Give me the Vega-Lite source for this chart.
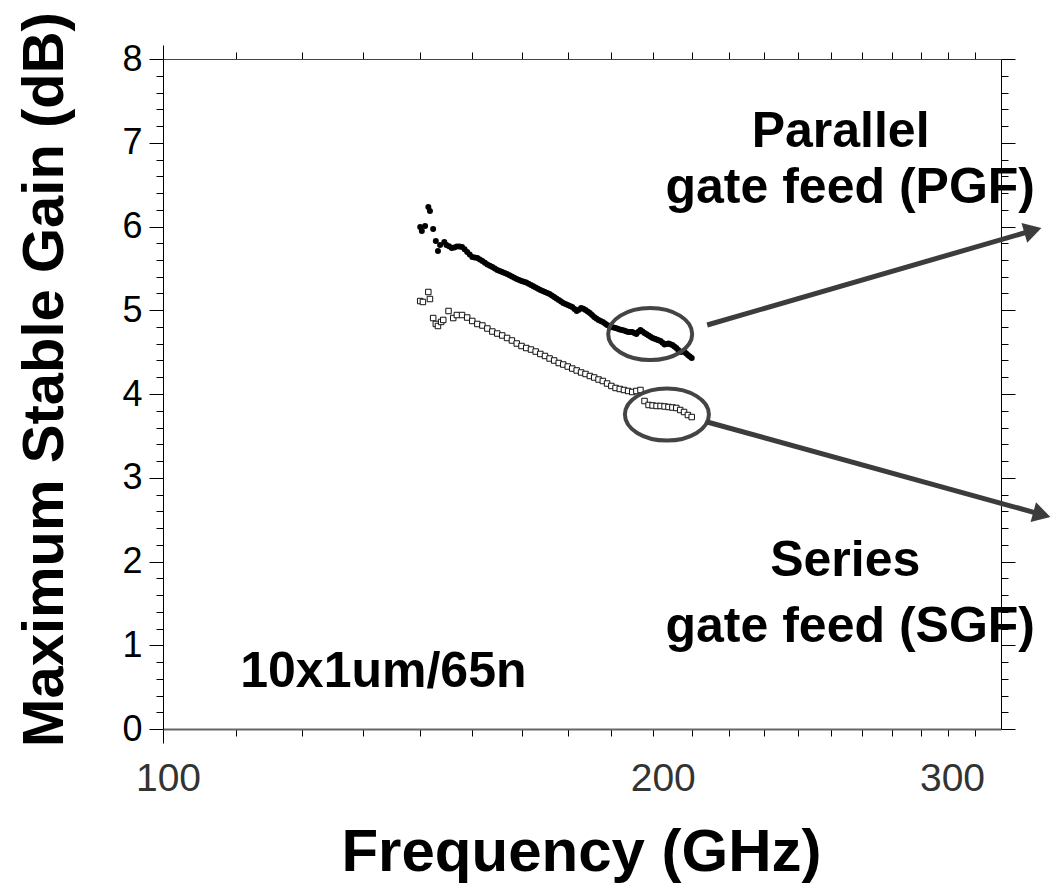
{
  "$schema": "https://vega.github.io/schema/vega-lite/v6.json",
  "width": 838,
  "height": 670,
  "autosize": {"type": "none"},
  "padding": {"left": 163, "top": 59, "right": 50, "bottom": 157},
  "background": "white",
  "config": {
    "view": {"stroke": null},
    "font": "Liberation Sans",
    "axis": {"grid": false, "labelFont": "Liberation Sans", "titleFont": "Liberation Sans", "tickColor": "black", "tickWidth": 1, "domainColor": "black"}
  },
  "datasets": {
    "pgf": [
      {"f": 140.1, "g": 5.994}, {"f": 140.4, "g": 5.946}, {"f": 141.0, "g": 6.006}, {"f": 141.6, "g": 6.233},
      {"f": 141.9, "g": 6.185}, {"f": 142.5, "g": 5.970}, {"f": 143.0, "g": 5.827}, {"f": 143.4, "g": 5.707},
      {"f": 143.8, "g": 5.779}, {"f": 144.6, "g": 5.815},
      {"f": 145, "g": 5.779}, {"f": 145.5, "g": 5.765}, {"f": 146, "g": 5.743}, {"f": 146.5, "g": 5.750},
      {"f": 147, "g": 5.761}, {"f": 147.5, "g": 5.760}, {"f": 148, "g": 5.755}, {"f": 148.5, "g": 5.728},
      {"f": 149, "g": 5.696}, {"f": 149.5, "g": 5.665}, {"f": 150, "g": 5.636}, {"f": 150.5, "g": 5.630},
      {"f": 151, "g": 5.624}, {"f": 151.5, "g": 5.607}, {"f": 152, "g": 5.588}, {"f": 152.5, "g": 5.567},
      {"f": 153, "g": 5.546}, {"f": 153.5, "g": 5.531}, {"f": 154, "g": 5.516}, {"f": 154.5, "g": 5.499},
      {"f": 155, "g": 5.481}, {"f": 155.5, "g": 5.469}, {"f": 156, "g": 5.457}, {"f": 156.5, "g": 5.445},
      {"f": 157, "g": 5.433}, {"f": 157.5, "g": 5.418}, {"f": 158, "g": 5.403}, {"f": 158.5, "g": 5.388},
      {"f": 159, "g": 5.373}, {"f": 159.5, "g": 5.361}, {"f": 160, "g": 5.349}, {"f": 160.5, "g": 5.340},
      {"f": 161, "g": 5.331}, {"f": 161.5, "g": 5.316}, {"f": 162, "g": 5.301}, {"f": 162.5, "g": 5.287},
      {"f": 163, "g": 5.272}, {"f": 163.5, "g": 5.257}, {"f": 164, "g": 5.242}, {"f": 164.5, "g": 5.230},
      {"f": 165, "g": 5.218}, {"f": 165.5, "g": 5.206}, {"f": 166, "g": 5.194}, {"f": 166.5, "g": 5.176},
      {"f": 167, "g": 5.158}, {"f": 167.5, "g": 5.140}, {"f": 168, "g": 5.122}, {"f": 168.5, "g": 5.105},
      {"f": 169, "g": 5.087}, {"f": 169.5, "g": 5.075}, {"f": 170, "g": 5.063}, {"f": 170.5, "g": 5.051},
      {"f": 171, "g": 5.039}, {"f": 171.5, "g": 5.015}, {"f": 172, "g": 4.991}, {"f": 172.5, "g": 5.005},
      {"f": 173, "g": 5.027}, {"f": 173.5, "g": 5.018}, {"f": 174, "g": 5.003}, {"f": 174.5, "g": 4.985},
      {"f": 175, "g": 4.967}, {"f": 175.5, "g": 4.944}, {"f": 176, "g": 4.920}, {"f": 176.5, "g": 4.902},
      {"f": 177, "g": 4.884}, {"f": 177.5, "g": 4.872}, {"f": 178, "g": 4.860}, {"f": 178.5, "g": 4.842},
      {"f": 179, "g": 4.824}, {"f": 179.5, "g": 4.812}, {"f": 180, "g": 4.800}, {"f": 180.5, "g": 4.794},
      {"f": 181, "g": 4.788}, {"f": 181.5, "g": 4.779}, {"f": 182, "g": 4.770}, {"f": 182.5, "g": 4.764},
      {"f": 183, "g": 4.758}, {"f": 183.5, "g": 4.749}, {"f": 184, "g": 4.740}, {"f": 184.5, "g": 4.740},
      {"f": 185, "g": 4.740}, {"f": 185.5, "g": 4.728}, {"f": 186, "g": 4.716}, {"f": 186.5, "g": 4.742},
      {"f": 187, "g": 4.764}, {"f": 187.5, "g": 4.746}, {"f": 188, "g": 4.728}, {"f": 188.5, "g": 4.713},
      {"f": 189, "g": 4.699}, {"f": 189.5, "g": 4.684}, {"f": 190, "g": 4.669}, {"f": 190.5, "g": 4.660},
      {"f": 191, "g": 4.651}, {"f": 191.5, "g": 4.642}, {"f": 192, "g": 4.633}, {"f": 192.5, "g": 4.612},
      {"f": 193, "g": 4.591}, {"f": 193.5, "g": 4.597}, {"f": 194, "g": 4.603}, {"f": 194.5, "g": 4.594},
      {"f": 195, "g": 4.585}, {"f": 195.5, "g": 4.567}, {"f": 196, "g": 4.549}, {"f": 196.5, "g": 4.525},
      {"f": 197, "g": 4.501}, {"f": 197.5, "g": 4.504}, {"f": 198, "g": 4.507}, {"f": 198.5, "g": 4.486},
      {"f": 199, "g": 4.466}, {"f": 199.5, "g": 4.448}, {"f": 200, "g": 4.430}
    ],
    "sgf": [
      {"f": 140.1, "g": 5.110}, {"f": 140.6, "g": 5.099}, {"f": 141.6, "g": 5.218}, {"f": 141.9, "g": 5.134},
      {"f": 142.5, "g": 4.907}, {"f": 143.0, "g": 4.836}, {"f": 143.4, "g": 4.812}, {"f": 144.0, "g": 4.860},
      {"f": 144.4, "g": 4.884}, {"f": 145.4, "g": 4.991}, {"f": 146.3, "g": 4.907},
      {"f": 147, "g": 4.943}, {"f": 148, "g": 4.943}, {"f": 149, "g": 4.913}, {"f": 150, "g": 4.872},
      {"f": 151, "g": 4.836}, {"f": 152, "g": 4.818}, {"f": 153, "g": 4.782}, {"f": 154, "g": 4.746},
      {"f": 155, "g": 4.722}, {"f": 156, "g": 4.699}, {"f": 157, "g": 4.669}, {"f": 158, "g": 4.639},
      {"f": 159, "g": 4.603}, {"f": 160, "g": 4.573}, {"f": 161, "g": 4.549}, {"f": 162, "g": 4.531},
      {"f": 163, "g": 4.507}, {"f": 164, "g": 4.478}, {"f": 165, "g": 4.454}, {"f": 166, "g": 4.424},
      {"f": 167, "g": 4.400}, {"f": 168, "g": 4.370}, {"f": 169, "g": 4.352}, {"f": 170, "g": 4.328},
      {"f": 171, "g": 4.304}, {"f": 172, "g": 4.281}, {"f": 173, "g": 4.257}, {"f": 174, "g": 4.239},
      {"f": 175, "g": 4.215}, {"f": 176, "g": 4.197}, {"f": 177, "g": 4.173}, {"f": 178, "g": 4.155},
      {"f": 179, "g": 4.125}, {"f": 180, "g": 4.096}, {"f": 181, "g": 4.072}, {"f": 182, "g": 4.060},
      {"f": 183, "g": 4.048}, {"f": 184, "g": 4.036}, {"f": 185, "g": 4.024}, {"f": 186, "g": 4.036},
      {"f": 187, "g": 4.048}, {"f": 188, "g": 3.916}, {"f": 189, "g": 3.869}, {"f": 190, "g": 3.863},
      {"f": 191, "g": 3.857}, {"f": 192, "g": 3.857}, {"f": 193, "g": 3.851}, {"f": 194, "g": 3.845},
      {"f": 195, "g": 3.839}, {"f": 196, "g": 3.833}, {"f": 197, "g": 3.809}, {"f": 198, "g": 3.785},
      {"f": 199, "g": 3.749}, {"f": 200, "g": 3.725}
    ],
    "circles": [
      {"f": 189.4, "g": 4.716},
      {"f": 193.6, "g": 3.755}
    ],
    "arrows": [
      {"dir": "up", "f0": 204.1, "g0": 4.824, "f1": 312.8, "g1": 5.953},
      {"dir": "down", "f0": 204.1, "g0": 3.666, "f1": 316.5, "g1": 2.560}
    ],
    "notes": [
      {"f": 243.1, "g": 6.949, "label": "Parallel"},
      {"f": 246.2, "g": 6.281, "label": "gate feed (PGF)"},
      {"f": 244.6, "g": 1.827, "label": "Series"},
      {"f": 246.2, "g": 1.039, "label": "gate feed (SGF)"},
      {"f": 133.5, "g": 0.501, "label": "10x1um/65n"}
    ]
  },
  "layer": [
    {
      "data": {"name": "pgf"},
      "mark": {"type": "point", "shape": "circle", "filled": true, "color": "black", "size": 36, "opacity": 1},
      "encoding": {
        "x": {
          "field": "f", "type": "quantitative",
          "scale": {"type": "log", "domain": [100, 300], "nice": false},
          "axis": {
            "orient": "bottom",
            "values": [100, 110, 120, 130, 140, 150, 160, 170, 180, 190, 200, 210, 220, 230, 240, 250, 260, 270, 280, 290, 300],
            "tickSize": {"condition": {"test": "datum.value == 100", "value": 14}, "value": 7},
            "tickOpacity": {"condition": {"test": "datum.value == 300", "value": 0}, "value": 1},
            "labelPadding": {"condition": {"test": "datum.value == 100", "value": 47}, "value": 54},
            "labelOffset": {"condition": [{"test": "datum.value == 200", "value": -29}, {"test": "datum.value == 300", "value": -49}], "value": 5},
            "labelExpr": "datum.value == 100 || datum.value == 200 || datum.value == 300 ? format(datum.value, 'd') : ''",
            "labelFlush": false,
            "labelOverlap": false,
            "labelBaseline": "alphabetic",
            "labelFontSize": 39,
            "labelColor": "#333333",
            "domainColor": "#666666",
            "domainWidth": 2,
            "title": "Frequency (GHz)",
            "titleFontSize": 60,
            "titleFontWeight": "bold",
            "titleColor": "black",
            "titleBaseline": "alphabetic",
            "titleAlign": "center",
            "titleX": 418,
            "titleY": 141
          }
        },
        "y": {
          "field": "g", "type": "quantitative",
          "scale": {"domain": [0, 8], "nice": false, "zero": false},
          "axis": {
            "orient": "left",
            "values": [0, 0.2, 0.4, 0.6, 0.8, 1, 1.2, 1.4, 1.6, 1.8, 2, 2.2, 2.4, 2.6, 2.8, 3, 3.2, 3.4, 3.6, 3.8, 4, 4.2, 4.4, 4.6, 4.8, 5, 5.2, 5.4, 5.6, 5.8, 6, 6.2, 6.4, 6.6, 6.8, 7, 7.2, 7.4, 7.6, 7.8, 8],
            "tickSize": {"condition": {"test": "abs(datum.value - round(datum.value)) < 0.001", "value": 14}, "value": 7},
            "labelExpr": "abs(datum.value - round(datum.value)) < 0.001 ? format(datum.value, 'd') : ''",
            "labelPadding": 7,
            "labelFontSize": 36,
            "labelColor": "black",
            "labelOverlap": false,
            "labelFlush": false,
            "title": "Maximum Stable Gain (dB)",
            "titleFontSize": 58,
            "titleFontWeight": "bold",
            "titleColor": "black",
            "titleBaseline": "alphabetic",
            "titleAlign": "center",
            "titleAngle": -90,
            "titleX": -101,
            "titleY": 320
          }
        }
      }
    },
    {
      "data": {"name": "sgf"},
      "mark": {"type": "point", "shape": "square", "fill": "white", "stroke": "#111111", "strokeWidth": 1, "size": 30, "opacity": 1},
      "encoding": {
        "x": {
          "field": "f", "type": "quantitative",
          "scale": {"type": "log", "domain": [100, 300], "nice": false},
          "axis": {
            "orient": "top",
            "values": [100, 110, 120, 130, 140, 150, 160, 170, 180, 190, 200, 210, 220, 230, 240, 250, 260, 270, 280, 290, 300],
            "tickSize": {"condition": {"test": "datum.value == 100", "value": 14}, "value": 7},
            "tickOpacity": {"condition": {"test": "datum.value == 300", "value": 0}, "value": 1},
            "labels": false,
            "title": null,
            "domainColor": "#444444"
          }
        },
        "y": {
          "field": "g", "type": "quantitative",
          "scale": {"domain": [0, 8], "nice": false, "zero": false},
          "axis": {
            "orient": "right",
            "values": [0, 0.2, 0.4, 0.6, 0.8, 1, 1.2, 1.4, 1.6, 1.8, 2, 2.2, 2.4, 2.6, 2.8, 3, 3.2, 3.4, 3.6, 3.8, 4, 4.2, 4.4, 4.6, 4.8, 5, 5.2, 5.4, 5.6, 5.8, 6, 6.2, 6.4, 6.6, 6.8, 7, 7.2, 7.4, 7.6, 7.8, 8],
            "tickSize": {"condition": {"test": "abs(datum.value - round(datum.value)) < 0.001", "value": 14}, "value": 7},
            "labels": false,
            "title": null,
            "domainColor": "black"
          }
        }
      }
    },
    {
      "data": {"name": "circles"},
      "mark": {
        "type": "point",
        "shape": "M -1 0 C -1 -0.3424 -0.5523 -0.62 0 -0.62 C 0.5523 -0.62 1 -0.3424 1 0 C 1 0.3424 0.5523 0.62 0 0.62 C -0.5523 0.62 -1 0.3424 -1 0 Z",
        "filled": false,
        "color": "#444444",
        "strokeWidth": 4,
        "size": 7056,
        "opacity": 1
      },
      "encoding": {
        "x": {"field": "f", "type": "quantitative", "axis": null},
        "y": {"field": "g", "type": "quantitative", "axis": null}
      }
    },
    {
      "data": {"name": "arrows"},
      "mark": {"type": "rule", "stroke": "#3c3c3c", "strokeWidth": 5},
      "encoding": {
        "x": {"field": "f0", "type": "quantitative", "axis": null},
        "y": {"field": "g0", "type": "quantitative", "axis": null},
        "x2": {"field": "f1"},
        "y2": {"field": "g1"}
      }
    },
    {
      "data": {"name": "arrows"},
      "transform": [{"filter": "datum.dir == 'up'"}],
      "mark": {"type": "point", "shape": "triangle-up", "filled": true, "color": "#3c3c3c", "size": 420, "angle": 73.8, "opacity": 1},
      "encoding": {
        "x": {"field": "f1", "type": "quantitative", "axis": null},
        "y": {"field": "g1", "type": "quantitative", "axis": null}
      }
    },
    {
      "data": {"name": "arrows"},
      "transform": [{"filter": "datum.dir == 'down'"}],
      "mark": {"type": "point", "shape": "triangle-up", "filled": true, "color": "#3c3c3c", "size": 420, "angle": 105.5, "opacity": 1},
      "encoding": {
        "x": {"field": "f1", "type": "quantitative", "axis": null},
        "y": {"field": "g1", "type": "quantitative", "axis": null}
      }
    },
    {
      "data": {"name": "notes"},
      "mark": {"type": "text", "font": "Liberation Sans", "fontSize": 50, "fontWeight": "bold", "color": "black", "align": "center", "baseline": "alphabetic"},
      "encoding": {
        "x": {"field": "f", "type": "quantitative", "axis": null},
        "y": {"field": "g", "type": "quantitative", "axis": null},
        "text": {"field": "label"}
      }
    }
  ],
  "resolve": {"axis": {"x": "independent", "y": "independent"}}
}
